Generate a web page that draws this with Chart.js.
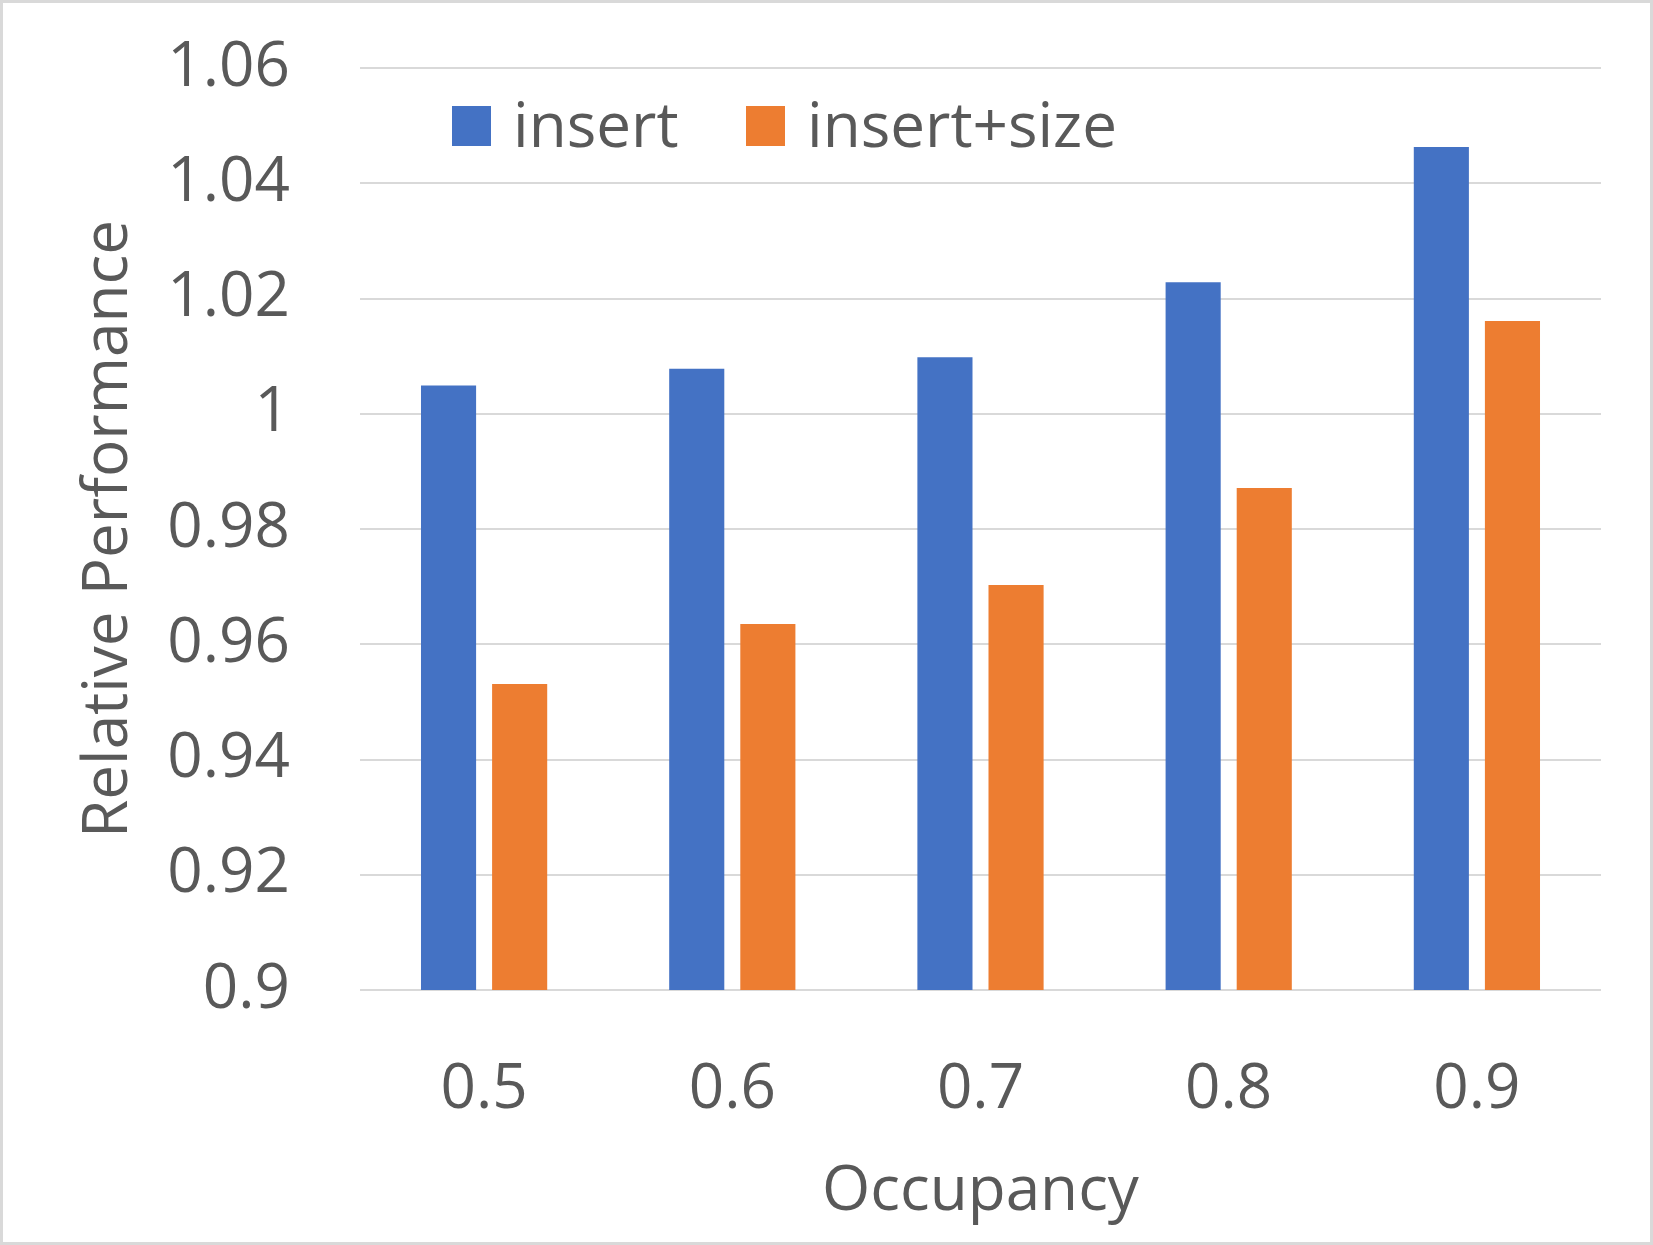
<!DOCTYPE html>
<html lang="en">
<head>
    <meta charset="UTF-8">
    <title>Relative Performance by Occupancy</title>
    <script src="https://cdn.jsdelivr.net/npm/chart.js"></script>
    <style>
        html, body { margin: 0; padding: 0; background: #fff; }
        .wrap { position: relative; width: 1653px; height: 1245px; }
    </style>
</head>
<body>
    <div class="wrap">
        <canvas id="perfChart"></canvas>
    </div>
    <script>
        // data
        const occupancy = ['0.5', '0.6', '0.7', '0.8', '0.9'];
        const insertValues = [1.0049, 1.0078, 1.0098, 1.0228, 1.0463];
        const insertSizeValues = [0.9531, 0.9635, 0.9703, 0.9871, 1.0161];
        const seriesNames = ['insert', 'insert+size'];

        const textColor = '#595959';
        const gridColor = '#d9d9d9';
        const fontFamily = '"Open Sans", "DejaVu Sans", sans-serif';

        // white background + light grey frame
        const framePlugin = {
            id: 'frame',
            beforeDraw(chart) {
                const ctx = chart.ctx;
                ctx.save();
                ctx.fillStyle = '#fff';
                ctx.fillRect(0, 0, chart.width, chart.height);
                ctx.restore();
            },
            afterDraw(chart) {
                const ctx = chart.ctx;
                ctx.save();
                ctx.strokeStyle = gridColor;
                ctx.lineWidth = 3;
                ctx.strokeRect(1.5, 1.5, chart.width - 3, chart.height - 3);
                ctx.restore();
            }
        };

        // legend drawn inside the plot area, like the original
        const innerLegend = {
            id: 'innerLegend',
            afterDraw(chart) {
                const ctx = chart.ctx;
                const boxX = [452, 746];
                ctx.save();
                ctx.font = '62px ' + fontFamily;
                ctx.textBaseline = 'middle';
                chart.data.datasets.forEach((ds, i) => {
                    ctx.fillStyle = ds.backgroundColor;
                    ctx.fillRect(boxX[i], 106, 39, 40);
                    ctx.fillStyle = textColor;
                    ctx.fillText(ds.label, boxX[i] + 61, 129);
                });
                ctx.restore();
            }
        };

        const ctx = document.getElementById('perfChart').getContext('2d');
        new Chart(ctx, {
            type: 'bar',
            data: {
                labels: occupancy,
                datasets: [
                    {
                        label: seriesNames[0],
                        data: insertValues,
                        backgroundColor: '#4472C4',
                        barPercentage: 0.775,
                        categoryPercentage: 0.573
                    },
                    {
                        label: seriesNames[1],
                        data: insertSizeValues,
                        backgroundColor: '#ED7D31',
                        barPercentage: 0.775,
                        categoryPercentage: 0.573
                    }
                ]
            },
            options: {
                responsive: true,
                maintainAspectRatio: false,
                animation: false,
                devicePixelRatio: 1,
                layout: {
                    padding: { left: 0, top: 68, right: 52, bottom: 0 }
                },
                plugins: {
                    legend: { display: false },
                    tooltip: { enabled: false }
                },
                scales: {
                    x: {
                        grid: { display: false },
                        border: { display: false },
                        ticks: {
                            color: textColor,
                            padding: 55,
                            font: { family: fontFamily, size: 62 }
                        },
                        title: {
                            display: true,
                            text: 'Occupancy',
                            color: textColor,
                            padding: { top: 0, bottom: 15 },
                            font: { family: fontFamily, size: 62 }
                        },
                        afterFit(scale) {
                            scale.height = 255;
                            scale.paddingLeft = 0;
                            scale.paddingRight = 0;
                        }
                    },
                    y: {
                        min: 0.9,
                        max: 1.06,
                        grid: {
                            color: gridColor,
                            lineWidth: 2,
                            drawTicks: false
                        },
                        border: { display: false },
                        ticks: {
                            stepSize: 0.02,
                            color: textColor,
                            padding: 70,
                            font: { family: fontFamily, size: 62 },
                            callback: value => String(+value.toFixed(2))
                        },
                        title: {
                            display: true,
                            text: 'Relative Performance',
                            color: textColor,
                            padding: { top: 72, bottom: 0 },
                            font: { family: fontFamily, size: 62 }
                        },
                        afterFit(scale) {
                            scale.width = 360;
                            scale.paddingTop = 0;
                            scale.paddingBottom = 0;
                        }
                    }
                }
            },
            plugins: [framePlugin, innerLegend]
        });
    </script>
</body>
</html>
